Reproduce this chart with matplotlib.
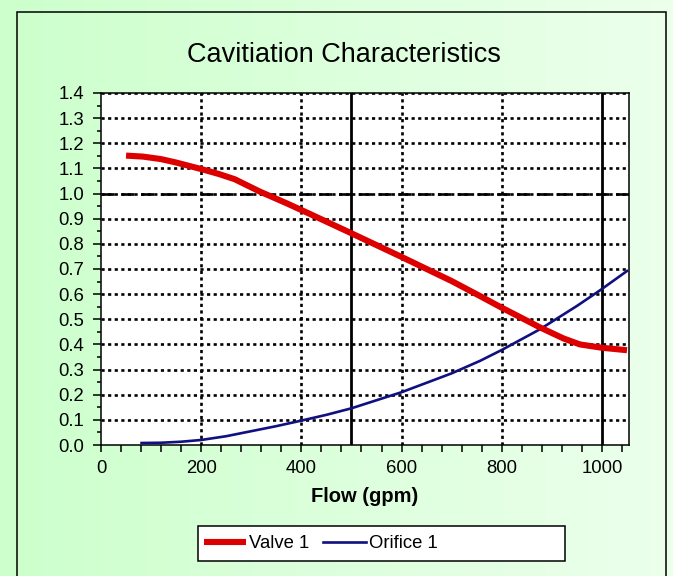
import matplotlib
matplotlib.use("Agg")
import matplotlib.pyplot as plt
import numpy as np
from matplotlib.patches import Rectangle
from matplotlib.ticker import MultipleLocator

plt.rcParams['font.family'] = ['Liberation Sans', 'DejaVu Sans']

# データ
valve_x = [50, 84, 120, 151, 201, 235, 267, 317, 371, 417, 500, 600, 700, 757, 800,
           840, 876, 923, 956, 999, 1050]
valve_y = [1.151, 1.147, 1.137, 1.123, 1.097, 1.078, 1.057, 1.008, 0.961, 0.919, 0.842,
           0.748, 0.652, 0.592, 0.546, 0.505, 0.468, 0.424, 0.40, 0.387, 0.377]

orifice_x = [81, 120, 160, 200, 250, 300, 350, 400, 450, 500, 600, 700, 757, 800, 876,
             950, 996, 1050]
orifice_y = [0.008, 0.009, 0.013, 0.02, 0.035, 0.055, 0.075, 0.097, 0.12, 0.146, 0.21,
             0.285, 0.335, 0.378, 0.46, 0.553, 0.615, 0.692]

limit_y = 1.0
solid_x = [500, 1000]
dotted_x = [200, 400, 600, 800]

fig = plt.figure(figsize=(6.73, 5.76), dpi=100)

# 背景グラデーション
bg = fig.add_axes([0, 0, 1, 1], zorder=-10)
grad = np.linspace(0, 1, 256).reshape(1, -1)
c0 = np.array([204, 255, 204]) / 255
c1 = np.array([236, 255, 236]) / 255
img = c0[None, None, :] * (1 - grad[..., None]) + c1[None, None, :] * grad[..., None]
bg.imshow(img, aspect='auto', extent=[0, 1, 0, 1])
bg.set_xlim(0, 1)
bg.set_ylim(0, 1)
bg.axis('off')

# 外枠
fig.patches.append(Rectangle((17 / 673, -0.05), (666 - 17) / 673, 1.05 - 12 / 576,
                             transform=fig.transFigure, fill=False, edgecolor='black',
                             linewidth=1.1))

ax = fig.add_axes([101 / 673, 1 - 445 / 576, (629 - 101) / 673, (445 - 93) / 576])
ax.set_facecolor('white')

# グリッド
dot = (0, (1.2, 1.3))
for yv in np.arange(0.1, 1.41, 0.1):
    ax.axhline(yv, color='black', linewidth=1.9, linestyle=dot, zorder=1)
for xv in dotted_x:
    ax.axvline(xv, color='black', linewidth=1.9, linestyle=dot, zorder=1)
ax.axhline(limit_y, color='black', linewidth=1.9, linestyle=(0, (5, 2.5)), zorder=1)
for xv in solid_x:
    ax.axvline(xv, color='black', linewidth=2.0, zorder=2)

ax.plot(valve_x, valve_y, color='#dd0000', linewidth=4.4, solid_capstyle='butt',
        solid_joinstyle='round', label='Valve 1', zorder=4)
ax.plot(orifice_x, orifice_y, color='#101080', linewidth=1.9, label='Orifice 1', zorder=3)

ax.set_xlim(0, 1054)
ax.set_ylim(0, 1.4)
ax.xaxis.set_major_locator(MultipleLocator(200))
ax.xaxis.set_minor_locator(MultipleLocator(40))
ax.yaxis.set_major_locator(MultipleLocator(0.1))
ax.yaxis.set_minor_locator(MultipleLocator(0.05))
ax.yaxis.set_major_formatter(plt.FuncFormatter(lambda v, p: f'{v:.1f}'))
ax.tick_params(axis='both', which='both', direction='out', width=1.1, labelsize=13.3)
ax.tick_params(axis='x', which='both', length=5, pad=6)
ax.tick_params(axis='y', which='major', length=6, pad=6)
ax.tick_params(axis='y', which='minor', length=3)
for s in ax.spines.values():
    s.set_linewidth(1.1)

ax.set_xlabel('Flow (gpm)', fontsize=14.5, fontweight='bold', labelpad=7)
fig.text(343.5 / 673, 1 - 55 / 576, 'Cavitiation Characteristics', fontsize=19.5,
         ha='center', va='center')

# 凡例
fig.patches.append(Rectangle((198 / 673, 1 - 561 / 576), (565 - 198) / 673, 35 / 576,
                             transform=fig.transFigure, facecolor='white',
                             edgecolor='black', linewidth=1.1, zorder=5))
leg = fig.legend(loc='center left', bbox_to_anchor=(204 / 673, 1 - 543.5 / 576), ncol=2,
                 frameon=False, fontsize=13.3, handlelength=2.3, handletextpad=0.15,
                 columnspacing=0.75, borderaxespad=0, borderpad=0)
leg.set_zorder(6)

fig.savefig('out.png', dpi=100)
